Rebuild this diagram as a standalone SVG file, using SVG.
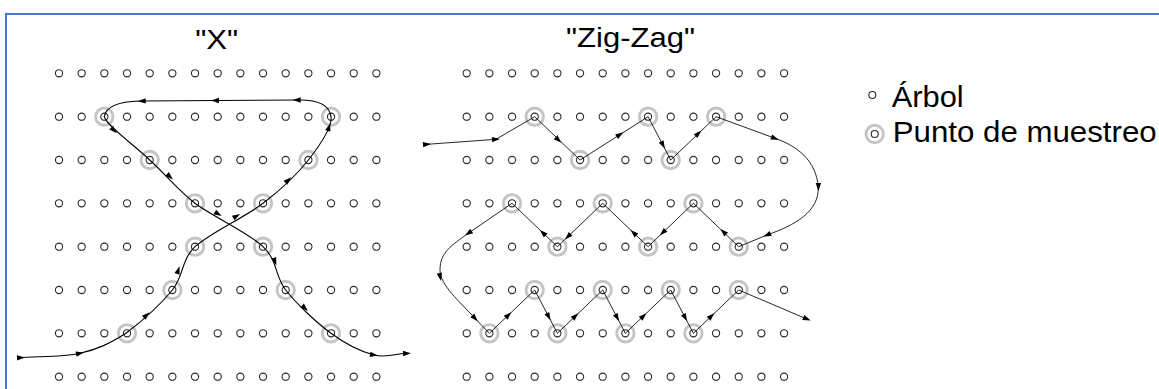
<svg xmlns="http://www.w3.org/2000/svg" xmlns:xlink="http://www.w3.org/1999/xlink" width="1159" height="389" viewBox="0 0 1159 389">
<style>
.tree{fill:#fff;stroke:#2a2a2a;stroke-width:1.1}
.ring{fill:none;stroke:#c4c4c4;stroke-width:2.9}
.path{fill:none;stroke:#000}
.title{font-family:"Liberation Sans",Arial,sans-serif;font-size:28.5px;fill:#000}
.legend{font-family:"Liberation Sans",Arial,sans-serif;font-size:29px;fill:#000}
.ah{fill:#000}
</style>
<defs>
<g id="row">
<circle class="tree" cx="0" cy="0" r="3.6"/><circle class="tree" cx="22.67" cy="0" r="3.6"/><circle class="tree" cx="45.34" cy="0" r="3.6"/><circle class="tree" cx="68.01" cy="0" r="3.6"/><circle class="tree" cx="90.68" cy="0" r="3.6"/><circle class="tree" cx="113.35" cy="0" r="3.6"/><circle class="tree" cx="136.02" cy="0" r="3.6"/><circle class="tree" cx="158.69" cy="0" r="3.6"/><circle class="tree" cx="181.36" cy="0" r="3.6"/><circle class="tree" cx="204.03" cy="0" r="3.6"/><circle class="tree" cx="226.7" cy="0" r="3.6"/><circle class="tree" cx="249.37" cy="0" r="3.6"/><circle class="tree" cx="272.04" cy="0" r="3.6"/><circle class="tree" cx="294.71" cy="0" r="3.6"/><circle class="tree" cx="317.38" cy="0" r="3.6"/>
</g>
<circle id="rg" class="ring" cx="0" cy="0" r="8.7"/>
<path id="ah" class="ah" d="M4,0 L-4,-2.7 L-4,2.7 Z"/>
</defs>
<rect x="6" y="14" width="1175" height="400" fill="none" stroke="#4a78c6" stroke-width="2"/>

<g id="title-x"><text class="title" x="216.7" y="49" text-anchor="middle" textLength="43" lengthAdjust="spacingAndGlyphs">"X"</text></g>
<g id="title-zigzag"><text class="title" x="630.5" y="46.5" text-anchor="middle" textLength="129" lengthAdjust="spacingAndGlyphs">"Zig-Zag"</text></g>

<g id="grid-x">
<use href="#row" x="59" y="73.3"/><use href="#row" x="59" y="116.7"/><use href="#row" x="59" y="160"/><use href="#row" x="59" y="203.3"/><use href="#row" x="59" y="246.7"/><use href="#row" x="59" y="290"/><use href="#row" x="59" y="333.3"/><use href="#row" x="59" y="376.7"/>
</g>
<g id="samples-x">
<use href="#rg" x="104.3" y="116.7"/><use href="#rg" x="331" y="116.7"/>
<use href="#rg" x="149.7" y="160"/><use href="#rg" x="308.4" y="160"/>
<use href="#rg" x="195" y="203.3"/><use href="#rg" x="263" y="203.3"/>
<use href="#rg" x="195" y="246.7"/><use href="#rg" x="263" y="246.7"/>
<use href="#rg" x="172.4" y="290"/><use href="#rg" x="285.7" y="290"/>
<use href="#rg" x="127" y="333.3"/><use href="#rg" x="331" y="333.3"/>
</g>

<g id="grid-zigzag">
<use href="#row" x="466.7" y="73.3"/><use href="#row" x="466.7" y="116.7"/><use href="#row" x="466.7" y="160"/><use href="#row" x="466.7" y="203.3"/><use href="#row" x="466.7" y="246.7"/><use href="#row" x="466.7" y="290"/><use href="#row" x="466.7" y="333.3"/><use href="#row" x="466.7" y="376.7"/>
</g>
<g id="samples-zigzag">
<use href="#rg" x="534.7" y="116.7"/><use href="#rg" x="648.1" y="116.7"/><use href="#rg" x="716.1" y="116.7"/>
<use href="#rg" x="580.1" y="160"/><use href="#rg" x="670.7" y="160"/>
<use href="#rg" x="512" y="203.3"/><use href="#rg" x="602.7" y="203.3"/><use href="#rg" x="693.4" y="203.3"/>
<use href="#rg" x="557.4" y="246.7"/><use href="#rg" x="648.1" y="246.7"/><use href="#rg" x="738.7" y="246.7"/>
<use href="#rg" x="534.7" y="290"/><use href="#rg" x="602.7" y="290"/><use href="#rg" x="670.7" y="290"/><use href="#rg" x="738.7" y="290"/>
<use href="#rg" x="489.4" y="333.3"/><use href="#rg" x="557.4" y="333.3"/><use href="#rg" x="625.4" y="333.3"/><use href="#rg" x="693.4" y="333.3"/>
</g>

<g id="connectors">
<path class="path" stroke-width="1.1" d="M18,357.7 C38.7,356.2 62.2,357.4 80,353.3 C97.8,349.2 109.6,343.6 126,333.3 C140.4,322.4 160.5,304.4 172.4,290 C184.1,275.6 180.5,261.1 195,246.7 C210.9,232.3 244.5,217.7 263,203.3 C282.1,188.9 297,174.4 308.4,160 C319.6,145.6 332.4,126.7 331,116.7 C329.6,106.7 322,100 300,100 L140,101 C122,101.5 106,105 104.3,116.7 C106.3,125.7 135.1,145.6 149.7,160 C165.5,174.4 176.9,188.8 195,203.3 C214.5,217.8 248.3,232.2 263,246.7 C278.3,261.2 274.4,275.6 285.7,290 C297,304.4 316.4,322.5 331,333.3 C345.6,344.1 361,351.7 374,355 C386,358 396,354 404,353.4"/>
<g id="arrows-x">
<use href="#ah" transform="translate(21,357.7) rotate(-3)"/>
<use href="#ah" transform="translate(80,353.3) rotate(-13)"/>
<use href="#ah" transform="translate(146.7,315) rotate(-43)"/>
<use href="#ah" transform="translate(178.3,270) rotate(-71)"/>
<use href="#ah" transform="translate(236.7,216) rotate(-30)"/>
<use href="#ah" transform="translate(288.3,180) rotate(-44)"/>
<use href="#ah" transform="translate(329,127) rotate(-72)"/>
<use href="#ah" transform="translate(296.7,100) rotate(180)"/>
<use href="#ah" transform="translate(215,100.5) rotate(180)"/>
<use href="#ah" transform="translate(141.7,101) rotate(178)"/>
<use href="#ah" transform="translate(114,130.5) rotate(45)"/>
<use href="#ah" transform="translate(170,176.7) rotate(42)"/>
<use href="#ah" transform="translate(218.3,214) rotate(30)"/>
<use href="#ah" transform="translate(275,261.7) rotate(70)"/>
<use href="#ah" transform="translate(305,308.3) rotate(43)"/>
<use href="#ah" transform="translate(374,355) rotate(8)"/>
<use href="#ah" transform="translate(407,353.3) rotate(-2)"/>
</g>
<path class="path" stroke-width="0.85" d="M427,144.3 L496,139.3 L534.7,116.7 L580.1,160 L648.1,116.7 L670.7,160 L716.1,116.7 L775,138.3 C797,146 816,160 818.3,187 C819,212 795,225 767,235 L738.7,246.7 L693.4,203.3 L648.1,246.7 L602.7,203.3 L557.4,246.7 L512,203.3 L468.3,233.3 C452,245 440,252 440,270 C440,285 460,302 475,318.3 L489.4,333.3 L534.7,290 L557.4,333.3 L602.7,290 L625.4,333.3 L670.7,290 L693.4,333.3 L738.7,290 L804,317.8"/>
<g id="arrows-zigzag">
<use href="#ah" transform="translate(427,144.3) rotate(-4)"/>
<use href="#ah" transform="translate(496,139.3) rotate(-4)"/>
<use href="#ah" transform="translate(558.5,140) rotate(44)"/>
<use href="#ah" transform="translate(620,134.5) rotate(-32.6)"/>
<use href="#ah" transform="translate(663,145) rotate(62)"/>
<use href="#ah" transform="translate(698.5,133.3) rotate(-44)"/>
<use href="#ah" transform="translate(775,138.3) rotate(20)"/>
<use href="#ah" transform="translate(818.4,187) rotate(90)"/>
<use href="#ah" transform="translate(767,235) rotate(158)"/>
<use href="#ah" transform="translate(723.3,231.7) rotate(-136)"/>
<use href="#ah" transform="translate(662.7,232.7) rotate(136)"/>
<use href="#ah" transform="translate(633.5,232.7) rotate(-136)"/>
<use href="#ah" transform="translate(567.8,236.7) rotate(136)"/>
<use href="#ah" transform="translate(542.8,232.7) rotate(-136)"/>
<use href="#ah" transform="translate(468.3,233.3) rotate(146)"/>
<use href="#ah" transform="translate(440.2,277) rotate(78)"/>
<use href="#ah" transform="translate(475,318.3) rotate(47)"/>
<use href="#ah" transform="translate(508.5,315) rotate(-44)"/>
<use href="#ah" transform="translate(548.7,316.7) rotate(62)"/>
<use href="#ah" transform="translate(575.5,316) rotate(-44)"/>
<use href="#ah" transform="translate(617.2,317.7) rotate(62)"/>
<use href="#ah" transform="translate(643.5,316) rotate(-44)"/>
<use href="#ah" transform="translate(685.2,317.7) rotate(62)"/>
<use href="#ah" transform="translate(711.5,316) rotate(-44)"/>
<use href="#ah" transform="translate(807,319) rotate(23.4)"/>
</g>
</g>

<g id="legend-arbol">
<circle class="tree" cx="872.3" cy="95" r="3.5"/>
<text class="legend" x="891.7" y="106.7" textLength="72" lengthAdjust="spacingAndGlyphs">Árbol</text>
</g>
<g id="legend-muestreo">
<use href="#rg" x="874.7" y="134"/>
<circle class="tree" cx="874.7" cy="134" r="3.5"/>
<text class="legend" x="892.7" y="141.7" textLength="264" lengthAdjust="spacingAndGlyphs">Punto de muestreo</text>
</g>
</svg>
